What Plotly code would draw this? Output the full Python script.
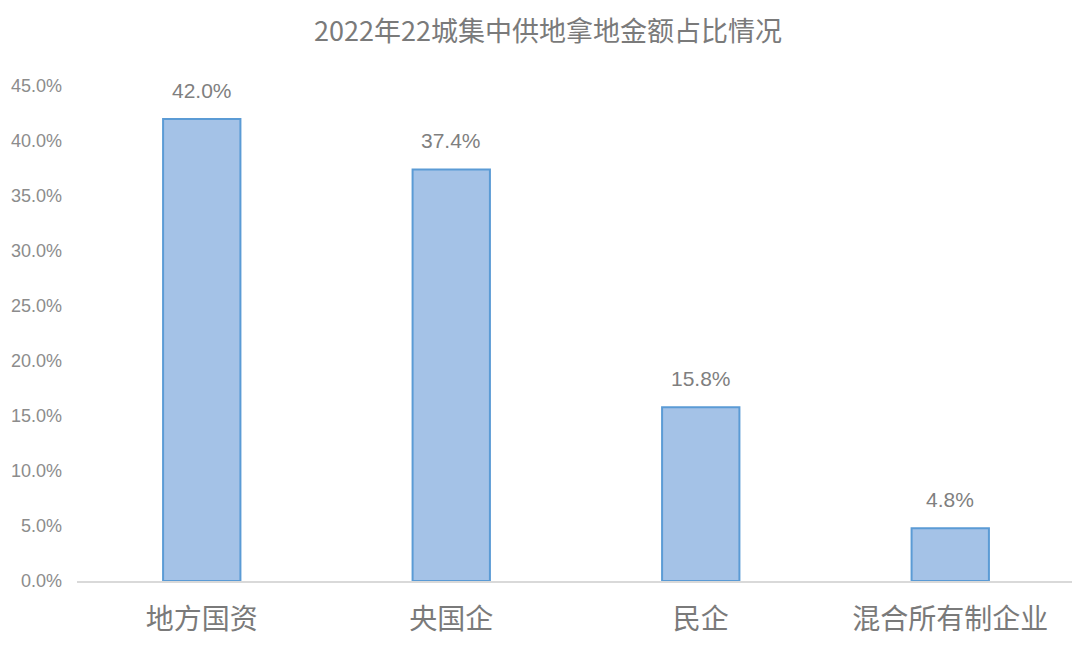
import plotly.graph_objects as go

categories = ["地方国资", "央国企", "民企", "混合所有制企业"]
values = [42.0, 37.4, 15.8, 4.8]
title_text = "2022年22城集中供地拿地金额占比情况"

FONT = "Liberation Sans, Arial, Noto Sans CJK SC, sans-serif"
CJK = "Noto Sans CJK SC, sans-serif"

fig = go.Figure()
fig.add_trace(go.Bar(
    x=categories, y=values, width=0.31,
    marker=dict(color="#a4c2e7", line=dict(color="#5b9bd5", width=2)),
    hoverinfo="x+y",
))

for c, v in zip(categories, values):
    fig.add_annotation(x=c, y=v, text=f"{v:.1f}%", showarrow=False,
                       yshift=29, font=dict(family=FONT, size=21, color="#7f7f7f"))

fig.update_layout(
    width=1072, height=642,
    paper_bgcolor="white", plot_bgcolor="white",
    margin=dict(l=69, r=5, t=78, b=69, autoexpand=False),
    title=dict(text=title_text, x=0.5037, xanchor="center", y=0.964, yanchor="middle",
               font=dict(family=CJK, size=27, color="#7a7a7a")),
    showlegend=False,
    bargap=0.69,
    xaxis=dict(showgrid=False, showline=True, linecolor="#d9d9d9", linewidth=2,
               ticks="", tickfont=dict(family=CJK, size=28, color="#7a7a7a"),
               ticklabelstandoff=12, automargin=False),
    yaxis=dict(range=[0, 45], dtick=5, tickformat=".1f", ticksuffix="%",
               showgrid=False, zeroline=False, showline=False, ticks="",
               tickfont=dict(family=FONT, size=18, color="#8c8c8c"),
               ticklabelstandoff=14, automargin=False),
)

fig.write_html("out.html")
